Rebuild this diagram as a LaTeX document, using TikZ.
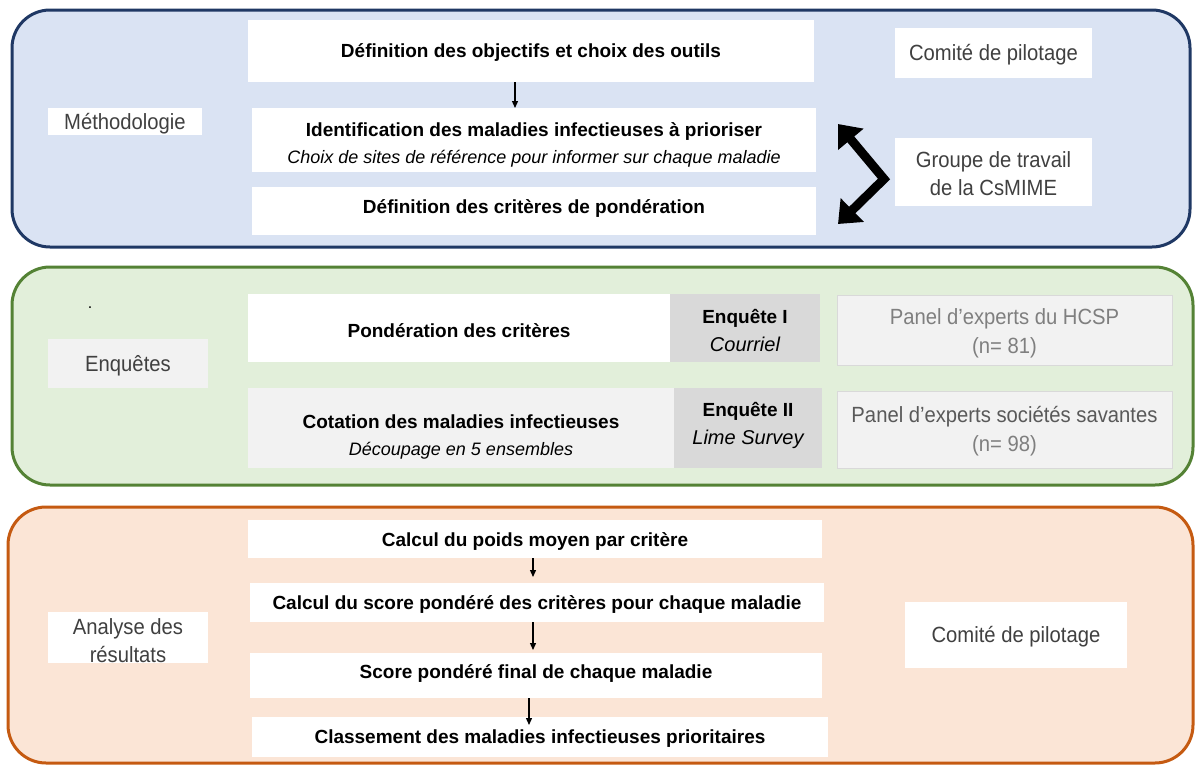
\documentclass[tikz,border=0pt]{standalone}
\usepackage{fontspec}
\setmainfont{Liberation Sans}
\newfontfamily\condfont{Liberation Sans}[FakeStretch=0.92]
\usetikzlibrary{arrows.meta,fit}
\definecolor{bluefill}{HTML}{DAE3F3}
\definecolor{blueline}{HTML}{1F3864}
\definecolor{greenfill}{HTML}{E2EFDA}
\definecolor{greenline}{HTML}{548235}
\definecolor{orfill}{HTML}{FBE5D6}
\definecolor{orline}{HTML}{C55A11}
\definecolor{lgray}{HTML}{F2F2F2}
\definecolor{mgray}{HTML}{D9D9D9}
\definecolor{tgray}{HTML}{404040}
\definecolor{pgray}{HTML}{7F7F7F}
\definecolor{sgray}{HTML}{595959}
\tikzset{
  panel/.style={rounded corners=38pt, line width=3pt},
  box/.style={inner sep=0pt, outer sep=0pt, draw=none},
  wbox/.style={box, fill=white},
  gbox/.style={box, fill=lgray},
  dbox/.style={box, fill=mgray},
  pbox/.style={box, fill=lgray, draw=mgray, line width=1pt},
  tb/.style={inner sep=0pt, align=center, text=black,
    font=\bfseries\fontsize{19}{28}\selectfont},
  tr/.style={inner sep=0pt, align=center, text=tgray,
    font=\condfont\fontsize{22}{28}\selectfont},
  arr/.style={line width=1.3pt, -{Triangle[length=7pt,width=6pt]}},
  zig/.style={line width=9pt, {Triangle[length=20pt,width=32pt]}-{Triangle[length=20pt,width=32pt]}},
}
\newcommand\subit{\mdseries\itshape\fontsize{18}{22}\selectfont}
\newcommand\enqit{\mdseries\itshape\fontsize{20}{22}\selectfont}
\begin{document}
\begin{tikzpicture}[x=1pt,y=-1pt]
\useasboundingbox (0,0) rectangle (1195,766);
% panels
\draw[panel, fill=bluefill, draw=blueline] (12,10) rectangle (1190,247);
\draw[panel, fill=greenfill, draw=greenline] (12,267) rectangle (1193,485);
\draw[panel, fill=orfill, draw=orline] (8,507) rectangle (1193,763);
% ---------- Methodologie ----------
\node[wbox, fit={(248,20) (814,82)}] (b1) {};
\node[tb] (b1t) at ([yshift=-2pt]b1.center) {Définition des objectifs et choix des outils};
\node[wbox, fit={(252,108) (816,172)}] (b2) {};
\node[tb] (b2t) at ([yshift=-5pt]b2.center) {Identification des maladies infectieuses à prioriser\\[-1pt]{\subit Choix de sites de référence pour informer sur chaque maladie}};
\node[wbox, fit={(252,187) (816,235)}] (b3) {};
\node[tb] (b3t) at ([yshift=2pt]b3.center) {Définition des critères de pondération};
\node[wbox, fit={(895,28) (1092,78)}] (cp1) {};
\node[tr] (cp1t) at ([yshift=-2pt]cp1.center) {Comité de pilotage};
\node[wbox, fit={(895,138) (1092,206)}] (gt) {};
\node[tr] (gtt) at ([yshift=-2pt]gt.center) {Groupe de travail\\de la CsMIME};
\node[wbox, fit={(48,108) (202,135)}] (meth) {};
\node[tr] (metht) at ([yshift=-2pt]meth.center) {Méthodologie};
\draw[arr] (b1.south -| 515,0) -- (b2.north -| 515,0);
\coordinate (zt) at (838,124);
\coordinate (zm) at (884,179);
\coordinate (zb) at (838,224);
\draw[zig] (zt) -- (zm) -- (zb);
% ---------- Enquetes ----------
\node[text=black, font=\fontsize{16}{16}\selectfont] (dot) at (90,308) {.};
\node[gbox, fit={(48,339) (208,388)}] (enq) {};
\node[tr] (enqt) at ([yshift=-2pt]enq.center) {Enquêtes};
\node[wbox, fit={(248,294) (670,362)}] (pond) {};
\node[tb] (pondt) at ([yshift=-3pt]pond.center) {Pondération des critères};
\node[dbox, fit={(670,294) (820,362)}] (e1) {};
\node[tb] (e1t) at ([yshift=-2pt]e1.center) {Enquête I\\{\enqit Courriel}};
\node[pbox, fit={(837,295) (1172,365)}] (hcsp) {};
\node[tr, text=pgray, font=\condfont\fontsize{22}{29}\selectfont] (hcspt) at ([yshift=-3pt]hcsp.center) {Panel d’experts du HCSP\\(n= 81)};
\node[gbox, fit={(248,388) (674,468)}] (cot) {};
\node[tb] (cott) at ([yshift=-9pt]cot.center) {Cotation des maladies infectieuses\\[-1pt]{\subit Découpage en 5 ensembles}};
\node[dbox, fit={(674,388) (822,468)}] (e2) {};
\node[tb] (e2t) at ([yshift=3pt]e2.center) {Enquête II\\{\enqit Lime Survey}};
\node[pbox, fit={(837,391) (1172,468)}] (soc) {};
\node[tr, text=sgray, font=\condfont\fontsize{22}{29}\selectfont] (soct) at ([yshift=-2pt]soc.center) {Panel d’experts sociétés savantes\\{\color{pgray}(n= 98)}};
% ---------- Analyse ----------
\node[wbox, fit={(248,520) (822,558)}] (c1) {};
\node[tb] (c1t) at ([yshift=-2pt]c1.center) {Calcul du poids moyen par critère};
\node[wbox, fit={(250,583) (824,622)}] (c2) {};
\node[tb] (c2t) at ([yshift=-2pt]c2.center) {Calcul du score pondéré des critères pour chaque maladie};
\node[wbox, fit={(250,653) (822,698)}] (c3) {};
\node[tb] (c3t) at ([yshift=2pt]c3.center) {Score pondéré final de chaque maladie};
\node[wbox, fit={(252,717) (828,757)}] (c4) {};
\node[tb] (c4t) at ([yshift=-2pt]c4.center) {Classement des maladies infectieuses prioritaires};
\node[wbox, fit={(905,602) (1127,668)}] (cp2) {};
\node[tr] (cp2t) at ([yshift=-2pt]cp2.center) {Comité de pilotage};
\node[wbox, fit={(48,612) (208,663)}] (ana) {};
\node[tr] (anat) at ([yshift=-3pt]ana.center) {Analyse des\\résultats};
\draw[arr] (c1.south -| 533,0) -- ([yshift=6pt]c2.north -| 533,0);
\draw[arr] (c2.south -| 533,0) -- ([yshift=3pt]c3.north -| 533,0);
\draw[arr] (c3.south -| 529,0) -- ([yshift=-8pt]c4.north -| 529,0);
\end{tikzpicture}
\end{document}
